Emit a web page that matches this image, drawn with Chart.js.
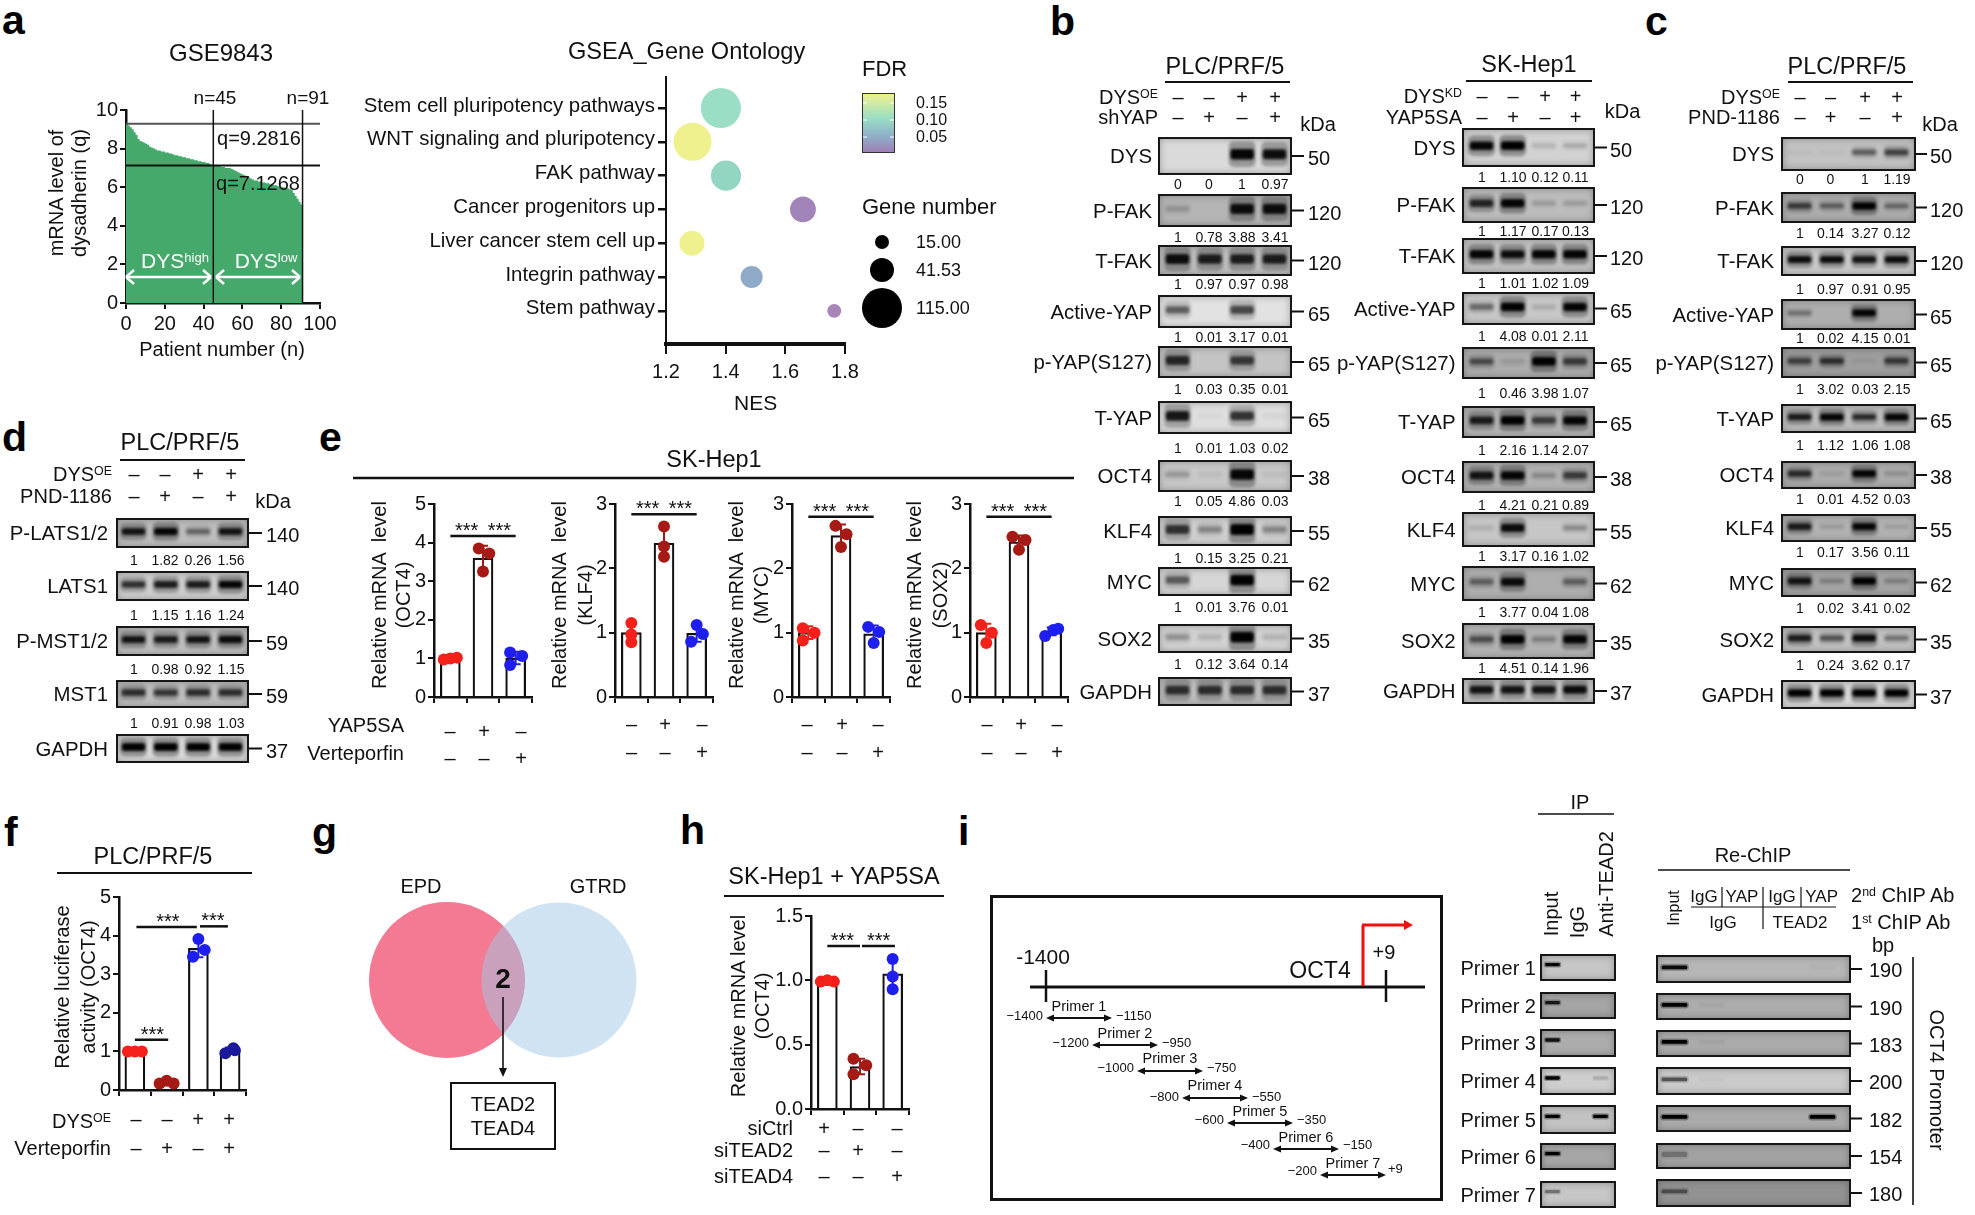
<!DOCTYPE html>
<html><head><meta charset="utf-8">
<script src="https://cdn.jsdelivr.net/npm/chart.js@4"></script>
<style>
html,body{margin:0;padding:0;background:#fff}
#root{position:relative;width:1975px;height:1215px;overflow:hidden;font-family:"Liberation Sans",Arial,sans-serif;color:#111}
#root div.t{position:absolute;white-space:nowrap;line-height:1}
sup{font-size:62%;line-height:0;vertical-align:baseline;position:relative;top:-.5em}
canvas{position:absolute;display:block}
</style></head><body><div id="root"></div>
<script>
/* ---------- DATA ---------- */
const patientQ=[9.28,9.2,9.1,9.0,8.85,8.7,8.5,8.4,8.35,8.3,8.25,8.2,8.1,8.05,8.0,7.95,7.9,7.9,7.85,7.85,7.8,7.8,7.75,7.75,7.7,7.65,7.65,7.6,7.6,7.55,7.55,7.5,7.5,7.45,7.45,7.4,7.4,7.35,7.35,7.3,7.3,7.25,7.25,7.2,7.15,7.13,7.1,7.1,7.1,7.05,7.05,7.0,7.0,7.0,6.95,6.9,6.85,6.8,6.75,6.7,6.65,6.6,6.55,6.5,6.45,6.4,6.35,6.35,6.3,6.3,6.25,6.25,6.2,6.2,6.15,6.15,6.1,6.1,6.05,6.05,6.0,6.0,5.95,5.95,5.9,5.85,5.7,5.55,5.4,5.25,5.1,4.0];
const qCuts=[9.2816,7.1268];
const nCuts=[45,91];
const gseaTerms=['Stem cell pluripotency pathways','WNT signaling and pluripotency','FAK pathway','Cancer progenitors up','Liver cancer stem cell up','Integrin pathway','Stem pathway'];
const gseaNES=[1.384,1.289,1.401,1.659,1.287,1.487,1.764];
const gseaGenes=[115,104,65,48,45,35,14];
const gseaColors=['#9ADEC5','#EFF18E','#93D5C3','#A285B8','#EFF18E','#8FA9C9','#A886BC'];
const legendGenes=[15,41.53,115];
const blotNames=['DYS','P-FAK','T-FAK','Active-YAP','p-YAP(S127)','T-YAP','OCT4','KLF4','MYC','SOX2','GAPDH'];
const blotKda=[50,120,120,65,65,65,38,55,62,35,37];
const quantB1=[['0','0','1','0.97'],['1','0.78','3.88','3.41'],['1','0.97','0.97','0.98'],['1','0.01','3.17','0.01'],['1','0.03','0.35','0.01'],['1','0.01','1.03','0.02'],['1','0.05','4.86','0.03'],['1','0.15','3.25','0.21'],['1','0.01','3.76','0.01'],['1','0.12','3.64','0.14']];
const quantB2=[['1','1.10','0.12','0.11'],['1','1.17','0.17','0.13'],['1','1.01','1.02','1.09'],['1','4.08','0.01','2.11'],['1','0.46','3.98','1.07'],['1','2.16','1.14','2.07'],['1','4.21','0.21','0.89'],['1','3.17','0.16','1.02'],['1','3.77','0.04','1.08'],['1','4.51','0.14','1.96']];
const quantC=[['0','0','1','1.19'],['1','0.14','3.27','0.12'],['1','0.97','0.91','0.95'],['1','0.02','4.15','0.01'],['1','3.02','0.03','2.15'],['1','1.12','1.06','1.08'],['1','0.01','4.52','0.03'],['1','0.17','3.56','0.11'],['1','0.02','3.41','0.02'],['1','0.24','3.62','0.17']];
const darkB1=[[0,0,.95,.9],[.15,0,.9,.9],[.9,.8,.8,.8],[.5,0,.6,0],[.75,0,.65,0],[.85,.03,.7,.04],[.2,.05,.95,.05],[.7,.3,1,.3],[.5,0,1,0],[.25,.12,1,.12],[.7,.7,.7,.7]];
const darkB2=[[.95,1,.12,.15],[.75,.95,.15,.15],[.95,.9,.95,.95],[.4,1,.12,.95],[.5,.1,1,.6],[.8,1,.6,.95],[.85,.95,.2,.6],[.1,.9,0,.25],[.4,.9,0,.4],[.5,1,.25,.95],[.85,.85,.85,.9]];
const darkC=[[.04,.04,.45,.6],[.6,.4,1,.35],[.9,.9,.85,.9],[.3,0,.95,0],[.55,.65,.05,.6],[.8,.95,.7,.95],[.7,.08,.95,.15],[.8,.12,.95,.1],[.85,.2,1,.2],[.8,.5,.9,.35],[1,1,1,1]];
const bgB1=['#DADADA','#B4B4B4','#BEBEBE','#E2E2E2','#C4C4C4','#DEDEDE','#C8C8C8','#D0D0D0','#D6D6D6','#D2D2D2','#BEBEBE'];
const bgB2=['#D2D2D2','#BCBCBC','#C2C2C2','#C8C8C8','#ACACAC','#B4B4B4','#B2B2B2','#C6C6C6','#AEAEAE','#B2B2B2','#CACACA'];
const bgC=['#C2C2C2','#ACACAC','#CACACA','#AEAEAE','#9E9E9E','#BEBEBE','#ACACAC','#B2B2B2','#A4A4A4','#C2C2C2','#DADADA'];
const dNames=['P-LATS1/2','LATS1','P-MST1/2','MST1','GAPDH'];
const dKda=[140,140,59,59,37];
const quantD=[['1','1.82','0.26','1.56'],['1','1.15','1.16','1.24'],['1','0.98','0.92','1.15'],['1','0.91','0.98','1.03']];
const darkD=[[.85,.95,.4,.85],[.7,.8,.8,.95],[.85,.8,.85,.9],[.7,.65,.7,.7],[1,1,1,1]];
const bgD=['#BEBEBE','#CECECE','#BEBEBE','#BEBEBE','#DADADA'];
const primerNames=['Primer 1','Primer 2','Primer 3','Primer 4','Primer 5','Primer 6','Primer 7'];
const primerFrom=['−1400','−1200','−1000','−800','−600','−400','−200'];
const primerTo=['−1150','−950','−750','−550','−350','−150','+9'];
const primerBp=[190,190,183,200,182,154,180];
const darkIP=[[.95,0,0],[.8,0,0],[.85,0,0],[.95,0,.12],[1,0,1],[1,0,0],[.35,0,0]];
const darkRe=[[.9,0,0,0,.02],[1,.03,0,0,0],[1,.04,0,0,0],[.5,.02,0,0,0],[1,0,0,0,1],[.25,0,0,0,0],[.4,0,0,0,0]];
const bgIP=['#C6C6C6','#A4A4A4','#ACACAC','#CECECE','#C2C2C2','#A6A6A6','#C6C6C6'];
const bgRe=['#B6B6B6','#ACACAC','#AAAAAA','#CACACA','#AAAAAA','#A2A2A2','#929292'];
const RED='#F5201A',DRED='#A51A15',BLUE='#1E1EEE',NAVY='#1A1A9A';
const eMeans=[[1,3.6,1.01],[1,2.39,.99],[1,2.51,.98],[1,2.41,1.02]];
const eErrs=[[.03,.32,.16],[.15,.24,.13],[.1,.17,.13],[.14,.1,.06]];
const ePoints=[
 [[[-.2,.97],[0,1],[.2,1.02]],[[-.13,3.85],[.19,3.72],[0,3.25]],[[-.17,1.15],[.2,1.06],[-.17,.83]]],
 [[[0,1.15],[0,.97],[0,.85]],[[0,2.65],[0,2.34],[0,2.18]],[[0,1.12],[.19,.98],[-.17,.86]]],
 [[[-.17,1.07],[.19,1],[-.17,.88]],[[-.17,2.66],[.17,2.53],[0,2.33]],[[-.17,1.09],[.17,1.01],[0,.84]]],
 [[[-.17,1.12],[.17,1],[0,.84]],[[-.2,2.49],[.2,2.44],[0,2.29]],[[-.2,.95],[.05,1.04],[.2,1.06]]]];
const eTargets=['(OCT4)','(KLF4)','(MYC)','(SOX2)'];
const fMeans=[1,.2,3.67,1.03], fErrs=[.02,.04,.23,.07];
const fPoints=[[[-.22,1],[0,1],[.22,1]],[[-.22,.17],[0,.24],[.22,.17]],[[0,3.91],[.2,3.63],[-.17,3.45]],[[-.15,.95],[.1,1.08],[.15,1.03]]];
const hMeans=[1,.33,1.05], hErrs=[.01,.06,.12];
const hPoints=[[[-.2,.99],[0,1],[.2,.99]],[[-.2,.39],[.19,.34],[-.2,.27]],[[0,1.165],[0,1.03],[0,.93]]];
const signsYAP=['–','+','–'], signsVerteE=['–','–','+'];
const signsDysOE=['–','–','+','+'], signsKnock=['–','+','–','+'];
const signsCtrl=['+','–','–'], signsT2=['–','+','–'], signsT4=['–','–','+'];
const eyTicks=[5,3,3,3];

/* ---------- HELPERS ---------- */
const FONT='"Liberation Sans"';
const root=document.getElementById('root');
Chart.defaults.font.family=FONT; Chart.defaults.color='#111'; Chart.defaults.animation=false;
function t(x,y,html,o={}){
  const d=document.createElement('div');d.className='t';d.innerHTML=html;
  const a=o.a||'c';const tx=a==='c'?'-50%':a==='r'?'-100%':'0';
  d.style.cssText=`left:${x}px;top:${y}px;font-size:${o.s||20}px;${o.b?'font-weight:bold;':''}color:${o.c||'#111'};transform:translate(${tx},-50%)${o.rot?` rotate(${o.rot}deg)`:''};z-index:${o.z||5}`;
  root.appendChild(d);return d;
}
function letter(x,base,ch){const d=document.createElement('div');d.className='t';d.textContent=ch;
  d.style.cssText=`left:${x}px;top:${base-35}px;font-size:41px;font-weight:bold;color:#000`;root.appendChild(d);}
const NS='http://www.w3.org/2000/svg';
const svg=document.createElementNS(NS,'svg');svg.setAttribute('width',1975);svg.setAttribute('height',1215);
svg.style.cssText='position:absolute;left:0;top:0;z-index:4;pointer-events:none';root.appendChild(svg);
function L(x1,y1,x2,y2,w=2,c='#111'){const l=document.createElementNS(NS,'line');
  Object.entries({x1,y1,x2,y2,stroke:c,'stroke-width':w}).forEach(([k,v])=>l.setAttribute(k,v));svg.appendChild(l);}
function head(x,y,dx,dy,len,hw,c){const p=document.createElementNS(NS,'polygon');
  const bx=x-dx*len,by=y-dy*len;
  p.setAttribute('points',`${x},${y} ${bx-dy*hw},${by+dx*hw} ${bx+dy*hw},${by-dx*hw}`);p.setAttribute('fill',c);svg.appendChild(p);}
function box(x,y,w,h,style){const d=document.createElement('div');d.style.cssText=`position:absolute;box-sizing:border-box;left:${x}px;top:${y}px;width:${w}px;height:${h}px;${style}`;root.appendChild(d);return d;}
/* plot area lands exactly on (x,y,w,h) */
function mk(x,y,w,h,m,cfg){
  const c=document.createElement('canvas');const W=w+m.l+m.r,H=h+m.t+m.b;
  c.width=W;c.height=H;c.style.left=(x-m.l)+'px';c.style.top=(y-m.t)+'px';c.style.width=W+'px';c.style.height=H+'px';
  root.appendChild(c);
  cfg.options=cfg.options||{};const op=cfg.options;
  op.responsive=false;op.animation=false;op.events=[];op.devicePixelRatio=1;
  op.layout={autoPadding:false,padding:{top:m.t,right:m.r,left:0,bottom:0}};
  op.plugins=Object.assign({legend:{display:false},tooltip:{enabled:false}},op.plugins||{});
  if(op.scales.x&&op.scales.x.display!==false)op.scales.x.afterFit=s=>{s.height=m.b};
  if(op.scales.y&&op.scales.y.display!==false)op.scales.y.afterFit=s=>{s.width=m.l};
  return new Chart(c,cfg);
}
const axisGrid=(len,w)=>({drawOnChartArea:false,drawTicks:true,tickLength:len,color:'#111',lineWidth:w});

/* ---------- panel a: waterfall ---------- */
mk(125.5,110,194,193,{l:60,t:14,r:20,b:34},{type:'line',data:{datasets:[
  {data:patientQ.map((q,i)=>({x:i,y:q})),stepped:'before',fill:'origin',backgroundColor:'#45A96C',borderWidth:0,pointRadius:0,order:10},
  ...nCuts.map(n=>({data:[{x:n,y:0},{x:n,y:10}],borderColor:'#111',borderWidth:1.5,pointRadius:0,order:1})),
  ...qCuts.map((q,i)=>({data:[{x:0,y:q},{x:100,y:q}],borderColor:i?'#111':'#555',borderWidth:2,pointRadius:0,order:1}))
]},options:{scales:{
  x:{type:'linear',min:0,max:100,ticks:{stepSize:20,font:{size:20},padding:3,maxRotation:0},border:{color:'#111',width:2.5},grid:axisGrid(6,2)},
  y:{min:0,max:10,ticks:{stepSize:2,font:{size:20},padding:2},border:{color:'#111',width:2.5},grid:axisGrid(6,2)}}}});
t(221,53,'GSE9843',{s:24});
t(215,97,'n=45',{s:19});t(308,97,'n=91',{s:19});
t(259,138,'q=9.2816',{s:20});t(258,183,'q=7.1268',{s:20});
t(56,193,'mRNA level of',{rot:-90,s:20});t(79,193,'dysadherin (q)',{rot:-90,s:20});
t(222,349,'Patient number (n)',{s:20});
t(175,260,'DYS<sup>high</sup>',{s:21,c:'#fff'});t(266,260,'DYS<sup>low</sup>',{s:21,c:'#fff'});
function whiteArrow(a,b,y){L(a,y,b,y,2.5,'#fff');[[a,1],[b,-1]].forEach(([x,d])=>{L(x,y,x+d*8,y-7,2.5,'#fff');L(x,y,x+d*8,y+7,2.5,'#fff');});}
whiteArrow(126,211,277);whiteArrow(216,300,277);

/* ---------- panel a: GSEA bubbles ---------- */
const geneR=g=>20*Math.sqrt(g/115);
mk(666,76,179,268,{l:400,t:14,r:20,b:36},{type:'bubble',data:{datasets:[{
  data:gseaNES.map((n,i)=>({x:n,y:i,r:geneR(gseaGenes[i])})),backgroundColor:gseaColors,borderWidth:0,clip:false}]},
 options:{scales:{
  x:{type:'linear',min:1.2,max:1.8,ticks:{stepSize:.2,font:{size:20},padding:6,callback:v=>v.toFixed(1)},border:{color:'#111',width:4},grid:axisGrid(10,2)},
  y:{type:'linear',reverse:true,min:-.91,max:6.98,afterBuildTicks:s=>{s.ticks=gseaTerms.map((_,i)=>({value:i}))},
     ticks:{font:{size:20.4},padding:3,labelOffset:-2,callback:v=>gseaTerms[v],autoSkip:false},border:{color:'#111',width:2},grid:axisGrid(8,2.5)}}}});
t(686.6,52,'GSEA_Gene Ontology',{s:23.6});t(755.6,402,'NES',{s:21});
t(862,69,'FDR',{a:'l',s:22});
box(862,93,33,60,'border:1.5px solid #333;background:linear-gradient(#EFF18E 0%,#9ADEC5 42%,#8FB0C8 72%,#A080B8 100%)');
['0.15','0.10','0.05'].forEach((s,i)=>{const y=103+i*17;t(916,y,s,{a:'l',s:16});L(863,y,867,y,1,'#fff');L(890,y,894,y,1,'#fff');});
t(862,207,'Gene number',{a:'l',s:22});
legendGenes.forEach((g,i)=>{const y=[242,270,308][i],r=geneR(g);box(882-r,y-r,2*r,2*r,'border-radius:50%;background:#000');
  t(916,y,g.toFixed(2),{a:'l',s:18});});

/* ---------- blots ---------- */
function blot(x,y,w,h,lanes,dark,bg,o={}){
  const bw=o.bw||24,base=o.base,f=o.frame||2.5,fat=o.fat||1;
  const wrap=box(x,y,w,h,`border:${f}px solid #161616;background:${bg};overflow:hidden;box-shadow:inset 0 0 7px rgba(0,0,0,.28)`);
  const iw=w-2*f,ih=h-2*f,c=document.createElement('canvas');c.width=iw;c.height=ih;
  c.style.cssText=`left:0;top:0;width:${iw}px;height:${ih}px;filter:blur(${o.blur==null?1.5:o.blur}px)`;wrap.appendChild(c);
  const s=(lanes[lanes.length-1]-lanes[0])/(lanes.length-1),ix=x+f;
  const min=(ix-lanes[0])/s,max=(lanes.length-1)+(ix+iw-lanes[lanes.length-1])/s;
  const cy=o.cy==null?-.05:o.cy;
  const px=v=>v/(ih/2);
  const hs=dark.map(d=>base?base:(3+d*6)*fat);
  new Chart(c,{type:'bar',data:{datasets:[
    {data:dark.map((d,i)=>({x:i,y:[cy-px(hs[i]*(base?.9:1.15)),cy+px(hs[i]*(base?.9:1.15))]})),backgroundColor:dark.map(d=>`rgba(0,0,0,${d*.32})`),barThickness:bw+3,borderRadius:5,grouped:false,order:2,borderSkipped:false},
    {data:dark.map((d,i)=>({x:i,y:[cy-px(hs[i]*.45),cy+px(hs[i]*.45)]})),backgroundColor:dark.map(d=>`rgba(0,0,0,${Math.min(1,d*1.02)})`),barThickness:bw,borderRadius:3,grouped:false,order:1,borderSkipped:false}
  ]},options:{responsive:false,animation:false,events:[],devicePixelRatio:1,layout:{padding:0,autoPadding:false},plugins:{legend:{display:false},tooltip:{enabled:false}},
    scales:{x:{type:'linear',offset:false,min,max,display:false},y:{min:-1,max:1,display:false,reverse:true}}}});
}
function blotColumn(cfg){
  const {fx,fw,lanes,labelR,tick0,tick1,numL,rows,names,kd,quants,quantY,darks,bgs,fat}=cfg;
  rows.forEach((r,i)=>{
    const mid=(r[0]+r[1])/2;
    blot(fx,r[0],fw,r[1]-r[0],lanes,darks[i],bgs[i],{bw:23,cy:-.08,fat});
    t(labelR,mid,names[i],{a:'r',s:20.4});
    L(tick0,mid,tick1,mid,2);
    t(numL,mid+2,String(kd[i]),{a:'l',s:20});
    if(quants[i])quants[i].forEach((q,j)=>t(lanes[j],quantY[i],q,{s:14}));
  });
}
function signRow(lanes,y,signs,s=20){signs.forEach((g,i)=>t(lanes[i],y,g,{s}));}

const lanesB1=[1178,1209,1242,1275],lanesB2=[1482,1513,1545,1575.5],lanesC=[1800,1830.5,1865,1897],lanesD=[134,165,198,231];
blotColumn({fx:1158,fw:134,fat:1.25,lanes:lanesB1,labelR:1152,tick0:1292,tick1:1304,numL:1308,names:blotNames,kd:blotKda,quants:quantB1,darks:darkB1,bgs:bgB1,
 rows:[[137,175],[194,227],[245,276],[295,328],[346,378],[401,434],[460,492],[516,546],[567,596],[624,653],[677,706]],
 quantY:[184,237,284,337,389,448,501,558,607,664]});
blotColumn({fx:1462,fw:133,fat:1,lanes:lanesB2,labelR:1455.5,tick0:1595,tick1:1607,numL:1610,names:blotNames,kd:blotKda,quants:quantB2,darks:darkB2,bgs:bgB2,
 rows:[[128,167],[187,223],[238,274],[292,325],[347,379],[406,438],[461,493],[512,547],[566,601],[623,659],[678,704]],
 quantY:[177,231,283,336,393,450,505,556,612,668]});
blotColumn({fx:1781,fw:135,fat:.85,lanes:lanesC,labelR:1774,tick0:1916,tick1:1927,numL:1930,names:blotNames,kd:blotKda,quants:quantC,darks:darkC,bgs:bgC,
 rows:[[137,171],[192,223],[246,276],[299,330],[347,378],[404,433],[461,489],[514,542],[568,597],[626,653],[680,709]],
 quantY:[179,233,289,338,389,445,499,552,608,665]});
blotColumn({fx:116,fw:133,fat:.9,lanes:lanesD,labelR:108,tick0:249,tick1:262,numL:266,names:dNames,kd:dKda,quants:quantD,darks:darkD,bgs:bgD,
 rows:[[518,548],[571,601],[626,656],[680,708],[734,763]],quantY:[560,615,669,723]});

t(1225,67,'PLC/PRF/5',{s:23.5});L(1165,82,1290,82,2);
t(1158,97,'DYS<sup>OE</sup>',{a:'r'});t(1158,117,'shYAP',{a:'r'});signRow(lanesB1,97,signsDysOE);signRow(lanesB1,117,signsKnock);t(1318,124,'kDa');
t(1529,65,'SK-Hep1',{s:23.5});L(1466,81,1592,81,2);
t(1462,96,'DYS<sup>KD</sup>',{a:'r'});t(1462,117,'YAP5SA',{a:'r'});signRow(lanesB2,96,signsDysOE);signRow(lanesB2,117,signsKnock);t(1622.5,111,'kDa');
t(1847,67,'PLC/PRF/5',{s:23.5});L(1788,82,1913,82,2);
t(1780,97,'DYS<sup>OE</sup>',{a:'r'});t(1780,117,'PND-1186',{a:'r'});signRow(lanesC,97,signsDysOE);signRow(lanesC,117,signsKnock);t(1940,124,'kDa');
t(180,443,'PLC/PRF/5',{s:23.5});L(120,460,245,460,2);
t(112,474,'DYS<sup>OE</sup>',{a:'r'});t(112,496,'PND-1186',{a:'r'});signRow(lanesD,474,signsDysOE);signRow(lanesD,496,signsKnock);t(273,501,'kDa');

/* ---------- bar + point charts ---------- */
const barDeco={id:'barDeco',
  afterDatasetDraw(ch,args,o){ if(args.index!==0)return;
    const {x,y}=ch.scales,c=ch.ctx;c.save();
    o.errs.forEach((e,i)=>{const m=o.means[i];c.strokeStyle=o.colors[i];c.lineWidth=2;c.beginPath();
      const px=x.getPixelForValue(i),a=y.getPixelForValue(m+e),b=y.getPixelForValue(m-e);
      c.moveTo(px,a);c.lineTo(px,b);c.moveTo(px-5,a);c.lineTo(px+5,a);c.moveTo(px-5,b);c.lineTo(px+5,b);c.stroke();});
    c.restore();},
  afterDatasetsDraw(ch,args,o){const {x,y}=ch.scales,c=ch.ctx;c.save();c.strokeStyle='#111';c.lineWidth=2.5;
    o.brackets.forEach(b=>{const p=y.getPixelForValue(b.y);c.beginPath();c.moveTo(x.getPixelForValue(b.a),p);c.lineTo(x.getPixelForValue(b.b),p);c.stroke();});
    c.restore();}};
function barChart(px,py,w,h,yMax,step,means,errs,points,colors,brackets,fmt){
  const n=means.length;
  const ch=mk(px,py,w,h,{l:40,t:14,r:14,b:14},{type:'bar',data:{datasets:[
    {type:'bar',data:means.map((v,i)=>({x:i,y:v})),backgroundColor:'#fff',borderColor:'#111',borderWidth:2.2,barThickness:20,order:5},
    {type:'scatter',data:points.flatMap((g,i)=>g.map(p=>({x:i+p[0],y:p[1]}))),
      pointBackgroundColor:points.flatMap((g,i)=>g.map(()=>colors[i])),pointBorderWidth:0,pointRadius:6,order:1,clip:false}
  ]},plugins:[barDeco],options:{plugins:{barDeco:{errs,means,colors,brackets}},scales:{
    x:{type:'linear',offset:false,min:-.5,max:n-.5,afterBuildTicks:s=>{s.ticks=means.map((_,i)=>({value:i}))},ticks:{display:false},border:{color:'#111',width:2.5},grid:axisGrid(6,2)},
    y:{min:0,max:yMax,ticks:{stepSize:step,font:{size:20},padding:2,callback:fmt||(v=>v)},border:{color:'#111',width:2.5},grid:axisGrid(6,2)}}}});
  brackets.forEach(b=>{const yy=ch.scales.y.getPixelForValue(b.y);
    b.stars.forEach(s=>t(px-40+ch.scales.x.getPixelForValue(s),py-14+yy-6,'***',{s:20}));});
  return ch;
}
const eX=[434,615,792,970];
const eBr=[4.17,2.84,2.8,2.8];
const eTitleX=[[379,403],[559,585],[735.5,761],[914,940]];
const eSignX=[[450,484,521],[631.5,665,702],[807,842,878],[987,1021,1057]];
const eSignY=[[731,758],[724,752],[724,752],[724,752]];
eMeans.forEach((m,i)=>{
  barChart(eX[i],504,98,193,eyTicks[i],1,m,eErrs[i],ePoints[i],[RED,DRED,BLUE],[{a:0,b:2,y:eBr[i],stars:[.5,1.5]}]);
  t(eTitleX[i][0],595,'Relative mRNA  level',{rot:-90,s:20}).style.whiteSpace='pre';
  t(eTitleX[i][1],595,eTargets[i],{rot:-90,s:20});
  signRow(eSignX[i],eSignY[i][0],signsYAP);signRow(eSignX[i],eSignY[i][1],signsVerteE);
});
t(714,460,'SK-Hep1',{s:23.5});L(353,478,1074,478,2.5);
t(404,725,'YAP5SA',{a:'r'});t(404,753,'Verteporfin',{a:'r'});

barChart(119,897,127,193,5,1,fMeans,fErrs,fPoints,[RED,DRED,BLUE,NAVY],[{a:0,b:1.05,y:1.3,stars:[.55]},{a:.05,b:1.95,y:4.22,stars:[1.04]},{a:2.05,b:2.93,y:4.24,stars:[2.46]}]);
t(153,857,'PLC/PRF/5',{s:23.5});L(57,873,252,873,2);
t(62,987,'Relative luciferase',{rot:-90});t(88,987,'activity (OCT4)',{rot:-90});
t(111,1121,'DYS<sup>OE</sup>',{a:'r'});t(111,1148,'Verteporfin',{a:'r'});
const lanesF=[136,167,198,229];signRow(lanesF,1119,signsDysOE);signRow(lanesF,1148,signsKnock);

barChart(811,916,98,193,1.5,.5,hMeans,hErrs,hPoints,[RED,DRED,BLUE],[{a:0,b:1,y:1.267,stars:[.46]},{a:1.06,b:2.07,y:1.267,stars:[1.57]}],v=>v.toFixed(1));
t(834,877,'SK-Hep1 + YAP5SA',{s:23.5});L(724,896,944,896,2);
t(738,1006,'Relative mRNA level',{rot:-90});t(762,1006,'(OCT4)',{rot:-90});
t(793,1128,'siCtrl',{a:'r'});t(793,1150,'siTEAD2',{a:'r'});t(793,1176,'siTEAD4',{a:'r'});
const lanesH=[824,858,897];signRow(lanesH,1128,signsCtrl);signRow(lanesH,1150,signsT2);signRow(lanesH,1176,signsT4);

/* ---------- panel g: Venn ---------- */
const vennSets=['EPD','GTRD'];
mk(360,890,290,180,{l:0,t:0,r:0,b:0},{type:'bubble',data:{datasets:[
  {data:[{x:0,y:0,r:78}],backgroundColor:'#F47A94',borderWidth:0,order:2,clip:false},
  {data:[{x:1,y:0,r:77.5}],backgroundColor:'rgba(159,199,229,.5)',borderWidth:0,order:1,clip:false}]},
  options:{scales:{x:{type:'linear',min:-.777,max:1.8125,display:false},y:{min:-1,max:1,display:false}}}});
t(421,886,vennSets[0]);t(598,886,vennSets[1]);
t(503,979,'2',{s:28,b:1});
L(503,997,503,1070,1.6);head(503,1077,0,1,9,4,'#111');
box(450,1082,106,68,'border:2.5px solid #111');
t(503,1104,'TEAD2');t(503,1128,'TEAD4');

/* ---------- panel i ---------- */
box(990,895,453,306,'border:3px solid #111');
L(1030,987,1425,987,3);L(1046,970,1046,1002,2.5);L(1386,970,1386,1002,2.5);
L(1363,986,1363,925,3,'#F01010');L(1362,925,1405,925,3,'#F01010');head(1413,925,1,0,9,5,'#F01010');
t(1043,956,'-1400',{s:21});t(1384,952,'+9',{s:20});t(1320,970,'OCT4',{s:23});
[[1046,1112,1018,1006,1015],[1092,1158,1045,1033,1042],[1137,1203,1071,1058,1067],[1182,1248,1098,1085,1096],[1227,1293,1123,1111,1119],[1273,1339,1149,1137,1144],[1320,1386,1175,1163,1170]].forEach((r,i)=>{
  L(r[0]+4,r[2],r[1]-4,r[2],2);head(r[0],r[2],-1,0,8,3.5,'#111');head(r[1],r[2],1,0,8,3.5,'#111');
  t((r[0]+r[1])/2,r[3],primerNames[i],{s:14.5});
  t(r[0]-3,r[4],primerFrom[i],{a:'r',s:13});
  t(r[1]+(i===6?2:4),r[4]-(i===6?2:0),primerTo[i],{a:'l',s:13});
});
const ipRows=[[954,981],[992,1019],[1029,1057],[1067,1095],[1105,1134],[1143,1170],[1181,1208]];
const reRows=[[955,983],[993,1020],[1030,1057],[1067,1095],[1105,1132],[1143,1169],[1179,1207]];
const lanesIP=[1553,1577,1601],lanesRe=[1675,1712,1749,1786,1823];
ipRows.forEach((r,i)=>{
  blot(1540,r[0],76,r[1]-r[0],lanesIP,darkIP[i],bgIP[i],{bw:14,base:3,cy:-.22,blur:.5});
  t(1536,(r[0]+r[1])/2,primerNames[i],{a:'r',s:20});
});
reRows.forEach((r,i)=>{
  const mid=(r[0]+r[1])/2;
  blot(1656,r[0],195,r[1]-r[0],lanesRe,darkRe[i],bgRe[i],{bw:25,base:i===5?5:3.5,cy:-.1,blur:.6});
  L(1851,mid,1862,mid,2);t(1869,mid+1,String(primerBp[i]),{a:'l',s:20});
});
t(1580,802,'IP');L(1538,814,1614,814,1.5);
t(1551,914,'Input',{rot:-90});t(1576.5,922,'IgG',{rot:-90});t(1606,884,'Anti-TEAD2',{rot:-90});
t(1753,855,'Re-ChIP');L(1658,870,1850,870,1.5);
t(1674,908,'Input',{rot:-90,s:16});
['IgG','YAP','IgG','YAP'].forEach((s,i)=>t([1704,1742,1782,1821.6][i],896,s,{s:17}));
L(1722,887,1722,907,1.2);L(1763,887,1763,929,1.2);L(1801,887,1801,907,1.2);L(1691,907,1836,907,1.2);
t(1723,922,'IgG',{s:17});t(1800,922,'TEAD2',{s:17});
t(1851,895,'2<sup>nd</sup> ChIP Ab',{a:'l',s:20});t(1851,922,'1<sup>st</sup> ChIP Ab',{a:'l',s:20});
t(1883,945,'bp');
L(1913,957,1913,1205,1.6);t(1937,1080,'OCT4 Promoter',{rot:90,s:20});

/* ---------- panel letters ---------- */
[[2,35,'a'],[1050,36,'b'],[1645,36,'c'],[2,452,'d'],[319,452,'e'],[4,847,'f'],[312,847,'g'],[680,845,'h'],[958,846,'i']].forEach(a=>letter(...a));
</script></body></html>
